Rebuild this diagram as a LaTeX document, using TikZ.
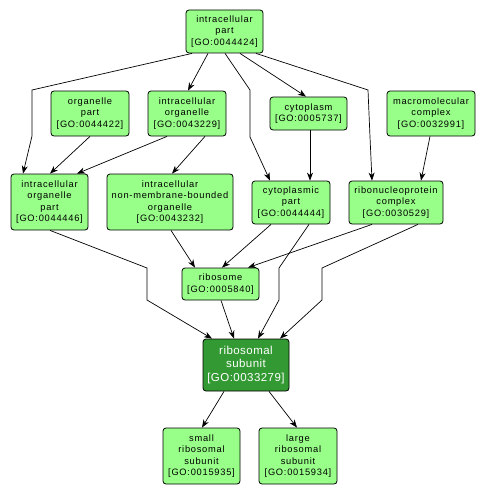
\documentclass[tikz,border=0pt]{standalone}
\usepackage{fontspec}
\setmainfont{Liberation Sans}
\newfontfamily\gofont[LetterSpace=8]{Liberation Sans}
\newfontfamily\gobigfont[LetterSpace=4]{Liberation Sans}
\usetikzlibrary{arrows.meta}
\definecolor{golight}{RGB}{152,255,136}
\definecolor{godark}{RGB}{51,153,51}
\tikzset{
  goterm/.style={draw=black, line width=0.8pt, rounded corners=3pt, fill=golight,
    align=center, inner sep=0pt, font=\gofont\fontsize{9.3}{11.6}\selectfont},
  gomain/.style={goterm, fill=godark, text=white, font=\gobigfont\fontsize{11.5}{13.7}\selectfont},
  goedge/.style={draw=black, line width=0.7pt, -{Stealth[length=8pt,width=6pt,inset=2.5pt]}},
}
\begin{document}
\begin{tikzpicture}[x=1pt,y=-1pt]
\useasboundingbox[fill=white] (0,0) rectangle (486,495);
\node[goterm, minimum width=77pt, minimum height=43pt] (ip) at (224.5,31.5) {intracellular\\part\\{[GO:0044424]}};
\node[goterm, minimum width=78pt, minimum height=45pt] (op) at (90,113.5) {organelle\\part\\{[GO:0044422]}};
\node[goterm, minimum width=78pt, minimum height=45pt] (io) at (187,113.5) {intracellular\\organelle\\{[GO:0043229]}};
\node[goterm, minimum width=77pt, minimum height=33pt] (cy) at (308.5,113.5) {cytoplasm\\{[GO:0005737]}};
\node[goterm, minimum width=88pt, minimum height=45pt] (mc) at (431,113.5) {macromolecular\\complex\\{[GO:0032991]}};
\node[goterm, minimum width=77pt, minimum height=56pt] (iop) at (49.5,202) {intracellular\\organelle\\part\\{[GO:0044446]}};
\node[goterm, minimum width=126pt, minimum height=56pt] (nmb) at (170,202) {intracellular\\non-membrane-bounded\\organelle\\{[GO:0043232]}};
\node[goterm, minimum width=78pt, minimum height=43pt] (cp) at (291,202.5) {cytoplasmic\\part\\{[GO:0044444]}};
\node[goterm, minimum width=94pt, minimum height=43pt] (rnp) at (396,202.5) {ribonucleoprotein\\complex\\{[GO:0030529]}};
\node[goterm, minimum width=77pt, minimum height=32pt] (rb) at (220.5,284) {ribosome\\{[GO:0005840]}};
\node[gomain, minimum width=86pt, minimum height=52pt] (rs) at (246,365) {ribosomal\\subunit\\{[GO:0033279]}};
\node[goterm, minimum width=77pt, minimum height=56pt] (srs) at (201.5,456) {small\\ribosomal\\subunit\\{[GO:0015935]}};
\node[goterm, minimum width=78pt, minimum height=56pt] (lrs) at (298,456) {large\\ribosomal\\subunit\\{[GO:0015934]}};

\draw[goedge] ([xshift=-32.5pt]ip.south) -- (32,90) -- (32,136) -- ([xshift=-26.5pt]iop.north);
\draw[goedge] ([xshift=-16.5pt]ip.south) -- ([xshift=1pt]io.north);
\draw[goedge] ([xshift=0.5pt]ip.south) -- (250,90) -- (250,137) -- ([xshift=-21pt]cp.north);
\draw[goedge] ([xshift=15.5pt]ip.south) -- ([xshift=-2.5pt]cy.north);
\draw[goedge] ([xshift=31.5pt]ip.south) -- (368,90) -- (370,137) -- ([xshift=-24pt]rnp.north);
\draw[goedge] (op.south) -- ([xshift=0.5pt]iop.north);
\draw[goedge] ([xshift=-20pt]io.south) -- ([xshift=27.5pt]iop.north);
\draw[goedge] ([xshift=18pt]io.south) -- ([xshift=2pt]nmb.north);
\draw[goedge] ([xshift=1.5pt]cy.south) -- ([xshift=19pt]cp.north);
\draw[goedge] ([xshift=-1pt]mc.south) -- ([xshift=25pt]rnp.north);
\draw[goedge] ([xshift=0.5pt]iop.south) -- (147,268) -- (147,300) -- ([xshift=-34pt]rs.north);
\draw[goedge] ([xshift=1pt]nmb.south) -- ([xshift=-25.5pt]rb.north);
\draw[goedge] ([xshift=-20pt]cp.south) -- ([xshift=1.5pt]rb.north);
\draw[goedge] ([xshift=18pt]cp.south) -- (279,268) -- (279,300) -- ([xshift=12pt]rs.north);
\draw[goedge] ([xshift=-24pt]rnp.south) -- ([xshift=27.5pt]rb.north);
\draw[goedge] ([xshift=22pt]rnp.south) -- (322,268) -- (322,300) -- ([xshift=34pt]rs.north);
\draw[goedge] ([xshift=0.5pt]rb.south) -- ([xshift=-12pt]rs.north);
\draw[goedge] ([xshift=-22pt]rs.south) -- ([xshift=0.5pt]srs.north);
\draw[goedge] ([xshift=23pt]rs.south) -- ([xshift=-1pt]lrs.north);
\end{tikzpicture}
\end{document}
